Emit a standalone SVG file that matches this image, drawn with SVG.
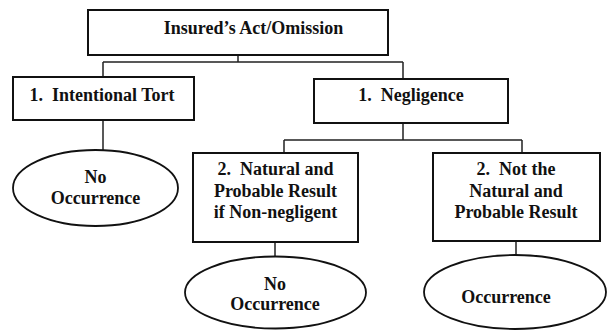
<svg xmlns="http://www.w3.org/2000/svg" width="610" height="330" viewBox="0 0 610 330">
<style>
.box{fill:#fff;stroke:#111;stroke-width:2}
.ell{fill:#fff;stroke:#111;stroke-width:1.8}
.con{fill:none;stroke:#222;stroke-width:1.5}
text{font-family:"Liberation Serif","Times New Roman",serif;font-weight:bold;font-size:18px;fill:#111;text-anchor:middle;white-space:pre}
</style>
<rect width="610" height="330" fill="#fff"/>
<g id="connectors">
<path class="con" d="M238,31 V62 M103,62 H403 M103,62 V77 M403,62 V79"/>
<path class="con" d="M103,120 V150"/>
<path class="con" d="M403,123 V140 M284,140 H522 M284,140 V153 M522,140 V153"/>
<path class="con" d="M275,242 V257 M516,241 V255"/>
</g>
<g id="root">
<rect class="box" x="88" y="10" width="300" height="45"/>
<text x="253.5" y="34">Insured’s Act/Omission</text>
</g>
<g id="intentional">
<rect class="box" x="13" y="77" width="181" height="43"/>
<text x="102" y="101" xml:space="preserve">1.  Intentional Tort</text>
</g>
<g id="negligence">
<rect class="box" x="314" y="79" width="194" height="44"/>
<text x="411" y="101" xml:space="preserve">1.  Negligence</text>
</g>
<g id="no-occurrence-1">
<ellipse class="ell" cx="95.5" cy="188" rx="82.5" ry="38"/>
<text x="95.5" y="183">No</text>
<text x="95.5" y="204">Occurrence</text>
</g>
<g id="natural-probable">
<rect class="box" x="193" y="153" width="165" height="89"/>
<text x="275.5" y="175" xml:space="preserve">2.  Natural and</text>
<text x="275.5" y="197">Probable Result</text>
<text x="275.5" y="218">if Non-negligent</text>
</g>
<g id="not-natural">
<rect class="box" x="433" y="153" width="167" height="88"/>
<text x="516" y="175" xml:space="preserve">2.  Not the</text>
<text x="516" y="197">Natural and</text>
<text x="516" y="218">Probable Result</text>
</g>
<g id="no-occurrence-2">
<ellipse class="ell" cx="275.5" cy="292.5" rx="90.5" ry="36"/>
<text x="275" y="290">No</text>
<text x="275" y="310">Occurrence</text>
</g>
<g id="occurrence">
<ellipse class="ell" cx="515" cy="292" rx="91" ry="37"/>
<text x="506" y="303">Occurrence</text>
</g>
</svg>
